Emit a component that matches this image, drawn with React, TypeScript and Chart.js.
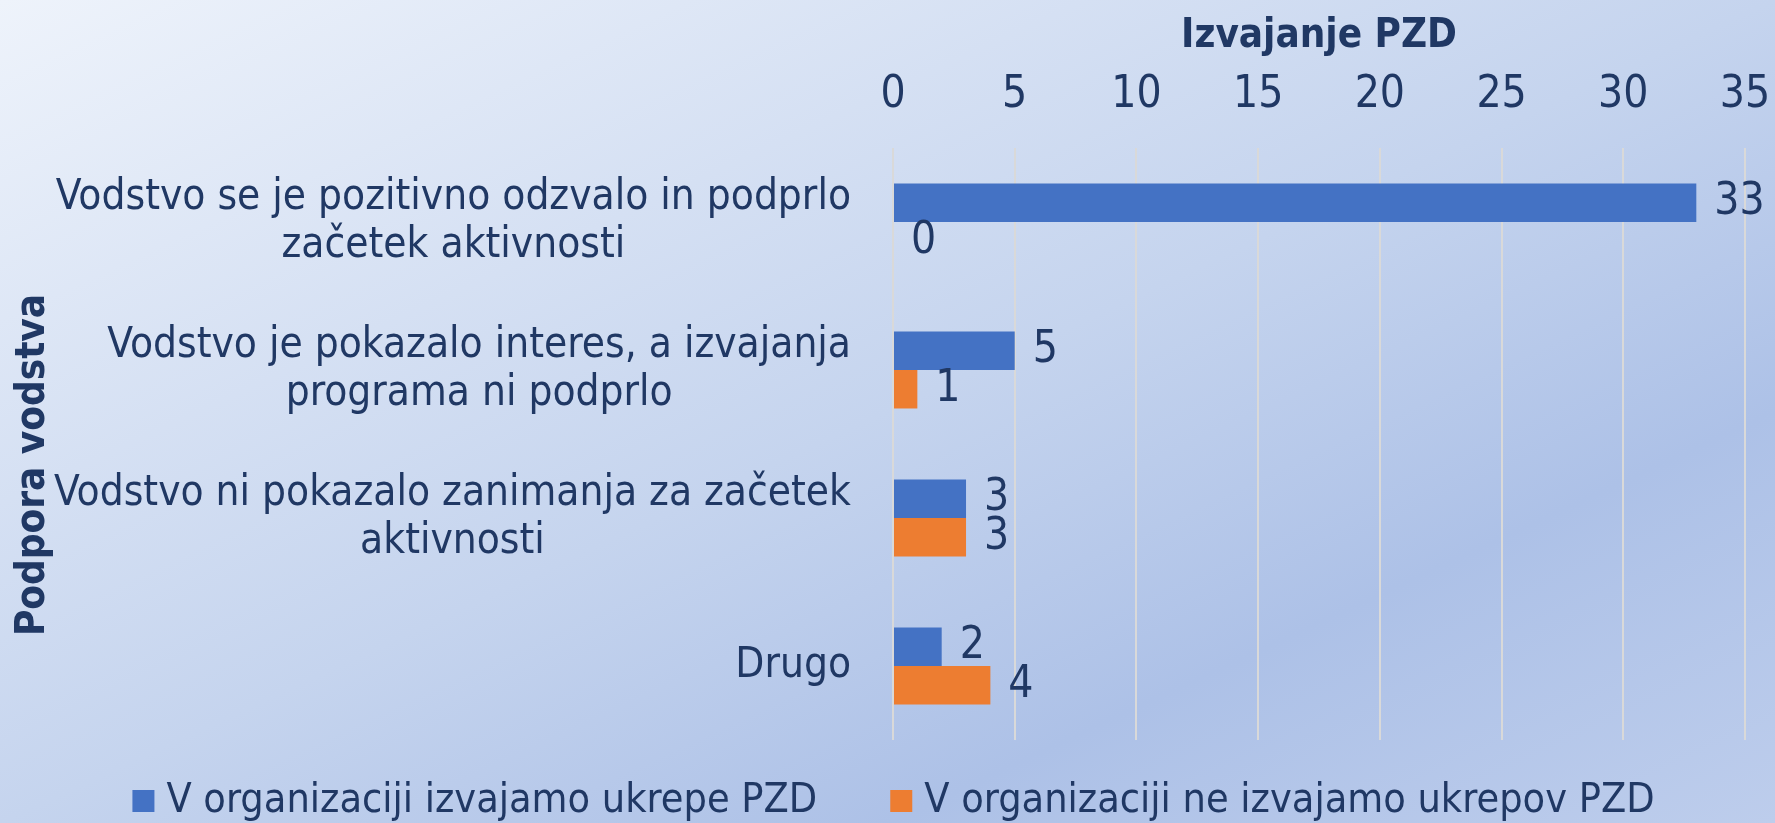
import React, { useEffect, useRef } from "react";
import { Chart, registerables } from "chart.js";
Chart.register(...registerables);

const categories: string[][] = [
  ["Vodstvo se je pozitivno odzvalo in podprlo", "začetek aktivnosti"],
  ["Vodstvo je pokazalo interes, a izvajanja", "programa ni podprlo"],
  ["Vodstvo ni pokazalo zanimanja za začetek", "aktivnosti"],
  ["Drugo"],
];
const seriesNames = [
  "V organizaciji izvajamo ukrepe PZD",
  "V organizaciji ne izvajamo ukrepov PZD",
];
const implementedValues = [33, 5, 3, 2];
const notImplementedValues = [0, 1, 3, 4];
const seriesColors = ["#4472C4", "#ED7D31"];
const xMin = 0;
const xMax = 35;
const xStep = 5;
const xTitle = "Izvajanje PZD";
const yTitle = "Podpora vodstva";

const FONT = "'DejaVu Sans Condensed', 'Noto Sans', sans-serif";
const TEXT = "#203864";
const W = 1775;
const H = 823;

const bgPlugin = {
  id: "bg",
  beforeDraw(chart: any) {
    const ctx = chart.ctx;
    ctx.save();
    ctx.scale(chart.width, chart.height);
    const g = ctx.createLinearGradient(0, 0, 1, 1);
    g.addColorStop(0, "#eef3fb");
    g.addColorStop(0.5, "#c5d4ee");
    g.addColorStop(0.75, "#adc1e7");
    g.addColorStop(1, "#bdcdec");
    ctx.fillStyle = g;
    ctx.fillRect(0, 0, 1, 1);
    ctx.restore();
  },
};

const labelsPlugin = {
  id: "customText",
  afterDatasetsDraw(chart: any) {
    const ctx = chart.ctx;
    ctx.save();
    ctx.fillStyle = TEXT;
    ctx.font = `44px ${FONT}`;
    ctx.textAlign = "left";
    ctx.textBaseline = "middle";
    chart.data.datasets.forEach((ds: any, di: number) => {
      const meta = chart.getDatasetMeta(di);
      meta.data.forEach((bar: any, i: number) => {
        ctx.fillText(String(ds.data[i]), bar.x + 18, bar.y);
      });
    });
    ctx.restore();
  },
  afterDraw(chart: any) {
    const ctx = chart.ctx;
    const y = chart.scales.y;
    ctx.save();
    ctx.fillStyle = TEXT;
    // category labels: block right-aligned, lines centred on each other
    ctx.font = `42px ${FONT}`;
    ctx.textBaseline = "middle";
    ctx.textAlign = "center";
    const lh = 48;
    categories.forEach((lines, i) => {
      const cy = y.getPixelForValue(i);
      const maxW = Math.max(...lines.map((l) => ctx.measureText(l).width));
      const cx = y.right - 42 - maxW / 2;
      const y0 = cy - ((lines.length - 1) * lh) / 2;
      lines.forEach((l, k) => ctx.fillText(l, cx, y0 + k * lh));
    });
    // y axis title
    ctx.save();
    ctx.translate(34, 465);
    ctx.rotate(-Math.PI / 2);
    ctx.font = `bold 40px ${FONT}`;
    ctx.fillText(yTitle, 0, 0);
    ctx.restore();
    // legend
    ctx.font = `41px ${FONT}`;
    ctx.textAlign = "left";
    const box = 22, gapText = 12, gapItem = 73;
    const widths = chart.data.datasets.map((d: any) => box + gapText + ctx.measureText(d.label).width);
    const total = widths.reduce((a: number, b: number) => a + b, 0) + gapItem * (widths.length - 1);
    let x = (chart.width - total) / 2 + 6;
    const ly = 801;
    chart.data.datasets.forEach((d: any, i: number) => {
      ctx.fillStyle = d.backgroundColor;
      ctx.fillRect(x, ly - box / 2, box, box);
      ctx.fillStyle = TEXT;
      ctx.fillText(d.label, x + box + gapText, ly);
      x += widths[i] + gapItem;
    });
    ctx.restore();
  },
};

export default function App() {
  const ref = useRef<HTMLCanvasElement>(null);
  useEffect(() => {
    const chart = new Chart(ref.current!, {
      type: "bar",
      data: {
        labels: categories.map((c) => c.join(" ")),
        datasets: [
          { label: seriesNames[0], data: implementedValues, backgroundColor: seriesColors[0] },
          { label: seriesNames[1], data: notImplementedValues, backgroundColor: seriesColors[1] },
        ],
      },
      options: {
        indexAxis: "y",
        responsive: false,
        animation: false,
        devicePixelRatio: 1,
        layout: { padding: { left: 0, right: 30, top: 0, bottom: 83 } },
        datasets: { bar: { categoryPercentage: 0.52, barPercentage: 1.0, borderWidth: 0 } },
        plugins: { legend: { display: false }, tooltip: { enabled: false } },
        scales: {
          x: {
            position: "top",
            min: xMin,
            max: xMax,
            ticks: { stepSize: xStep, color: TEXT, font: { family: FONT, size: 44 }, padding: 26 },
            grid: { color: "#d9d9d9", lineWidth: 2, drawTicks: false },
            border: { display: false },
            title: { display: true, text: xTitle, color: TEXT, font: { family: FONT, size: 40, weight: "bold" }, padding: { top: 13, bottom: 0 } },
            afterFit: (s: any) => { s.height = 148; s.paddingLeft = 0; s.paddingRight = 0; },
          },
          y: {
            ticks: { display: false },
            grid: { display: false },
            border: { display: false },
            afterFit: (s: any) => { s.width = 893; },
          },
        },
      },
      plugins: [bgPlugin, labelsPlugin],
    } as any);
    return () => chart.destroy();
  }, []);
  return (
    <div style={{ position: "fixed", left: 0, top: 0, width: W, height: H }}>
      <canvas ref={ref} width={W} height={H} style={{ display: "block" }} />
    </div>
  );
}
